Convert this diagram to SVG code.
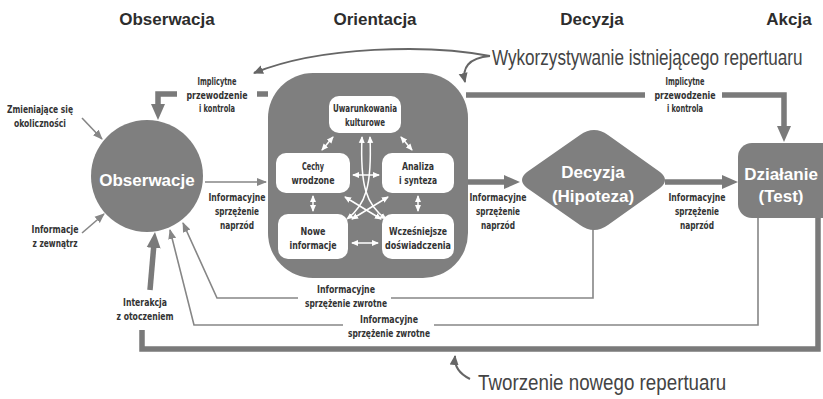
<svg xmlns="http://www.w3.org/2000/svg" width="823" height="399" viewBox="0 0 823 399">
<defs>
<style>
.hdr{font-family:"Liberation Sans",Arial,sans-serif;font-weight:bold;font-size:17px;fill:#2d2d2d;text-anchor:middle}
.lbl{font-family:"Liberation Sans Narrow","Arial Narrow","DejaVu Sans Condensed",sans-serif;font-weight:bold;font-size:10.5px;fill:#333;text-anchor:middle}
.box{fill:#fff}
.shape{fill:#7f7f7f}
.big{font-family:"Liberation Sans",Arial,sans-serif;font-weight:bold;font-size:17px;fill:#fff;text-anchor:middle}
.note{font-family:"Liberation Sans",Arial,sans-serif;fill:#444}
.thick{fill:none;stroke:#7a7a7a;stroke-width:5.5}
.thin{fill:none;stroke:#868686;stroke-width:1.6}
.curv{fill:none;stroke:#666;stroke-width:2}
.wh{fill:none;stroke:#fff;stroke-width:1.5}
</style>
<marker id="ah" markerUnits="userSpaceOnUse" markerWidth="16" markerHeight="16" viewBox="0 0 16 16" refX="8" refY="8" orient="auto"><path d="M0,1 L16,8 L0,15 Z" fill="#7a7a7a"/></marker>
<marker id="as" markerUnits="userSpaceOnUse" markerWidth="10" markerHeight="10" viewBox="0 0 10 10" refX="9" refY="5" orient="auto"><path d="M0,1 L10,5 L0,9 Z" fill="#868686"/></marker>
<marker id="ac" markerUnits="userSpaceOnUse" markerWidth="10" markerHeight="10" viewBox="0 0 10 10" refX="9" refY="5" orient="auto"><path d="M0,0.5 L10,5 L0,9.5 Z" fill="#666"/></marker>
<marker id="aw" markerUnits="userSpaceOnUse" markerWidth="7" markerHeight="7" viewBox="0 0 7 7" refX="6" refY="3.5" orient="auto-start-reverse"><path d="M0,0.5 L7,3.5 L0,6.5 Z" fill="#fff"/></marker>
</defs>
<rect width="823" height="399" fill="#fff"/>

<g id="headers">
<text class="hdr" x="167" y="25">Obserwacja</text>
<text class="hdr" x="375" y="25">Orientacja</text>
<text class="hdr" x="592" y="25">Decyzja</text>
<text class="hdr" x="789" y="25">Akcja</text>
</g>

<g id="connectors">
<path class="thick" d="M268,94 L257,94"/>
<path class="thick" d="M177,94 L158,94 L158,112" marker-end="url(#ah)"/>
<path class="thick" d="M466,95 L645,95"/>
<path class="thick" d="M722,95 L784,95 L784,134" marker-end="url(#ah)"/>
<path class="thick" d="M466,182 L512,182" marker-end="url(#ah)"/>
<path class="thick" d="M665,182 L730,182" marker-end="url(#ah)"/>
<path class="thin" d="M205,182 L266,182" marker-end="url(#as)"/>
<path class="thick" d="M818,215 L818,349 L142,349 L142,330"/>
<path class="thick" d="M150,290 L154.3,240" marker-end="url(#ah)"/>
<path class="thin" d="M593,228 L593,298 L391,298"/>
<path class="thin" d="M298,298 L217,298 L183,223" marker-end="url(#as)"/>
<path class="thin" d="M758,215 L758,325 L434,325"/>
<path class="thin" d="M343,325 L194,325 L170,230" marker-end="url(#as)"/>
<path class="thin" d="M82,118 L102,139" marker-end="url(#as)"/>
<path class="thin" d="M82,233 L104,214" marker-end="url(#as)"/>
<path class="curv" d="M490,56 C430,44 320,46 254,73" marker-end="url(#ac)"/>
<path class="curv" d="M490,56 C468,58 462,68 465,82" marker-end="url(#ac)"/>
<path class="curv" d="M470,379 C460,374 454,366 455,356" marker-end="url(#ac)"/>
</g>

<g id="obserwacje">
<circle class="shape" cx="147" cy="176" r="56"/>
<text class="big" x="147" y="186">Obserwacje</text>
</g>

<g id="orientacja">
<rect class="shape" x="268" y="73" width="200" height="205" rx="45"/>
</g>
<g id="uwarunkowania">
<rect class="box" x="329" y="96" width="72" height="37" rx="10"/>
<text class="lbl" x="365" y="112" textLength="64" lengthAdjust="spacingAndGlyphs">Uwarunkowania</text>
<text class="lbl" x="365" y="126" textLength="40" lengthAdjust="spacingAndGlyphs">kulturowe</text>
</g>
<g id="cechy">
<rect class="box" x="276" y="153" width="74" height="40" rx="10"/>
<text class="lbl" x="313" y="170" textLength="22" lengthAdjust="spacingAndGlyphs">Cechy</text>
<text class="lbl" x="313" y="184" textLength="43" lengthAdjust="spacingAndGlyphs">wrodzone</text>
</g>
<g id="analiza">
<rect class="box" x="382" y="153" width="72" height="40" rx="10"/>
<text class="lbl" x="418" y="170" textLength="32" lengthAdjust="spacingAndGlyphs">Analiza</text>
<text class="lbl" x="418" y="184" textLength="38" lengthAdjust="spacingAndGlyphs">i synteza</text>
</g>
<g id="nowe">
<rect class="box" x="278" y="214" width="70" height="45" rx="10"/>
<text class="lbl" x="313" y="235" textLength="25" lengthAdjust="spacingAndGlyphs">Nowe</text>
<text class="lbl" x="313" y="249" textLength="47" lengthAdjust="spacingAndGlyphs">informacje</text>
</g>
<g id="wczesniejsze">
<rect class="box" x="382" y="214" width="72" height="45" rx="10"/>
<text class="lbl" x="418" y="235" textLength="58" lengthAdjust="spacingAndGlyphs">Wcześniejsze</text>
<text class="lbl" x="418" y="249" textLength="66" lengthAdjust="spacingAndGlyphs">doświadczenia</text>
</g>

<g id="inner-connectors">
<path class="wh" d="M333,137 L322,150" marker-start="url(#aw)" marker-end="url(#aw)"/>
<path class="wh" d="M401,137 L412,150" marker-start="url(#aw)" marker-end="url(#aw)"/>
<path class="wh" d="M353,175 L379,175" marker-start="url(#aw)" marker-end="url(#aw)"/>
<path class="wh" d="M313,196 L313,211" marker-start="url(#aw)" marker-end="url(#aw)"/>
<path class="wh" d="M418,196 L418,211" marker-start="url(#aw)" marker-end="url(#aw)"/>
<path class="wh" d="M352,243 L378,243" marker-start="url(#aw)" marker-end="url(#aw)"/>
<path class="wh" d="M345,197 L381,219" marker-start="url(#aw)" marker-end="url(#aw)"/>
<path class="wh" d="M388,197 L352,219" marker-start="url(#aw)" marker-end="url(#aw)"/>
<path class="wh" d="M362,137 C360,185 366,205 386,219" marker-start="url(#aw)" marker-end="url(#aw)"/>
<path class="wh" d="M370,137 C372,185 366,205 347,219" marker-start="url(#aw)" marker-end="url(#aw)"/>
</g>

<g id="decyzja">
<path class="shape" d="M527,172 L580,135 Q594,125 608,135 L660,172 Q670,180 660,188 L608,225 Q594,235 580,225 L527,188 Q517,180 527,172 Z"/>
<text class="big" x="593" y="178">Decyzja</text>
<text class="big" x="593" y="202">(Hipoteza)</text>
</g>

<g id="dzialanie">
<rect class="shape" x="738" y="143" width="100" height="75" rx="14"/>
<text class="big" x="781" y="180">Działanie</text>
<text class="big" x="781" y="202">(Test)</text>
</g>

<g id="labels">
<text class="lbl" x="40" y="113" textLength="66" lengthAdjust="spacingAndGlyphs">Zmieniające się</text>
<text class="lbl" x="40" y="127" textLength="52" lengthAdjust="spacingAndGlyphs">okoliczności</text>
<text class="lbl" x="55" y="233" textLength="47" lengthAdjust="spacingAndGlyphs">Informacje</text>
<text class="lbl" x="55" y="247" textLength="45" lengthAdjust="spacingAndGlyphs">z zewnątrz</text>
<text class="lbl" x="217" y="85" textLength="39" lengthAdjust="spacingAndGlyphs">Implicytne</text>
<text class="lbl" x="217" y="99" textLength="61" lengthAdjust="spacingAndGlyphs">przewodzenie</text>
<text class="lbl" x="217" y="112" textLength="36" lengthAdjust="spacingAndGlyphs">i kontrola</text>
<text class="lbl" x="685" y="85" textLength="39" lengthAdjust="spacingAndGlyphs">Implicytne</text>
<text class="lbl" x="685" y="99" textLength="61" lengthAdjust="spacingAndGlyphs">przewodzenie</text>
<text class="lbl" x="685" y="112" textLength="36" lengthAdjust="spacingAndGlyphs">i kontrola</text>
<text class="lbl" x="237" y="201" textLength="57" lengthAdjust="spacingAndGlyphs">Informacyjne</text>
<text class="lbl" x="237" y="215" textLength="44" lengthAdjust="spacingAndGlyphs">sprzężenie</text>
<text class="lbl" x="237" y="229" textLength="34" lengthAdjust="spacingAndGlyphs">naprzód</text>
<text class="lbl" x="498" y="201" textLength="57" lengthAdjust="spacingAndGlyphs">Informacyjne</text>
<text class="lbl" x="498" y="215" textLength="44" lengthAdjust="spacingAndGlyphs">sprzężenie</text>
<text class="lbl" x="498" y="229" textLength="34" lengthAdjust="spacingAndGlyphs">naprzód</text>
<text class="lbl" x="697" y="201" textLength="57" lengthAdjust="spacingAndGlyphs">Informacyjne</text>
<text class="lbl" x="697" y="215" textLength="44" lengthAdjust="spacingAndGlyphs">sprzężenie</text>
<text class="lbl" x="697" y="229" textLength="34" lengthAdjust="spacingAndGlyphs">naprzód</text>
<text class="lbl" x="346" y="293" textLength="58" lengthAdjust="spacingAndGlyphs">Informacyjne</text>
<text class="lbl" x="346" y="307" textLength="82" lengthAdjust="spacingAndGlyphs">sprzężenie zwrotne</text>
<text class="lbl" x="389" y="323" textLength="58" lengthAdjust="spacingAndGlyphs">Informacyjne</text>
<text class="lbl" x="389" y="337" textLength="82" lengthAdjust="spacingAndGlyphs">sprzężenie zwrotne</text>
<text class="lbl" x="145" y="306" textLength="44" lengthAdjust="spacingAndGlyphs">Interakcja</text>
<text class="lbl" x="145" y="320" textLength="57" lengthAdjust="spacingAndGlyphs">z otoczeniem</text>
<text class="note" font-size="22" transform="translate(492,65) scale(0.778,1)">Wykorzystywanie istniejącego repertuaru</text>
<text class="note" font-size="22" transform="translate(478,390) scale(0.853,1)">Tworzenie nowego repertuaru</text>
</g>
</svg>
